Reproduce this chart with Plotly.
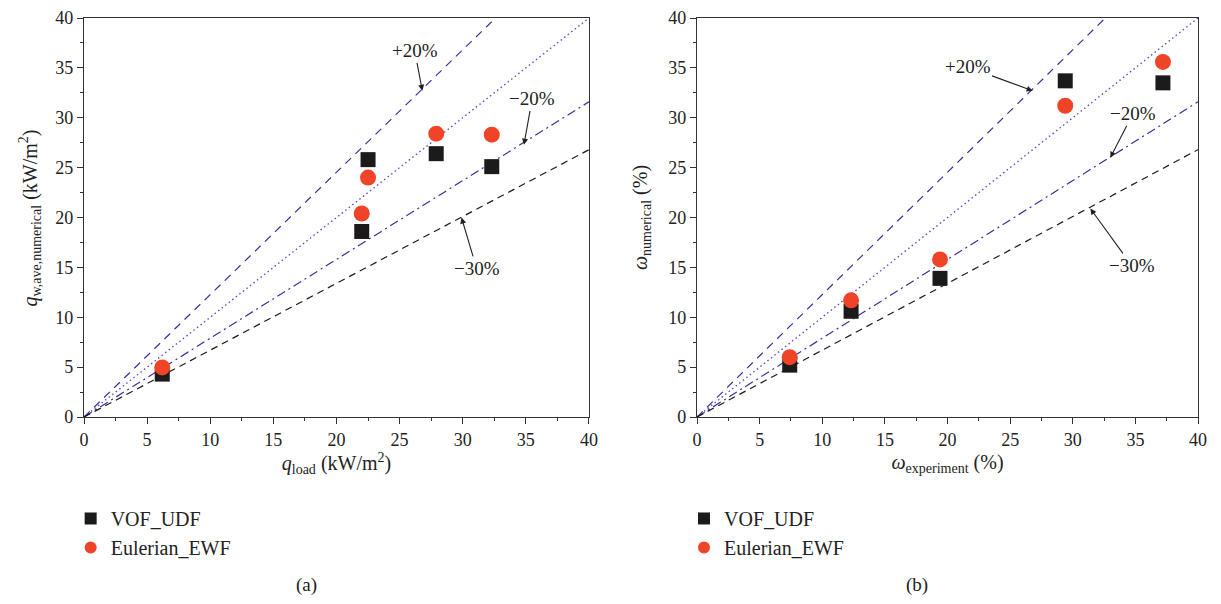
import plotly.graph_objects as go

# ---- data ----
qload_vof = [6.2, 22.5, 22.0, 27.9, 32.3]
qnum_vof = [4.3, 25.8, 18.6, 26.4, 25.1]
qload_eul = [6.2, 22.5, 22.0, 27.9, 32.3]
qnum_eul = [4.97, 24.0, 20.4, 28.4, 28.3]

wexp_vof = [7.4, 12.3, 19.4, 29.4, 37.2]
wnum_vof = [5.2, 10.6, 13.9, 33.7, 33.5]
wexp_eul = [7.4, 12.3, 19.4, 29.4, 37.2]
wnum_eul = [6.0, 11.7, 15.8, 31.2, 35.6]

ref_x = [0, 40]
slopes = {"+20%": 1.227, "0%": 1.0, "-20%": 0.79, "-30%": 0.67}

FONT = "Liberation Serif"
BLUE = "#3a2f9e"
DOTBLUE = "#5a4fd0"
RED = "#f04428"
BLACK = "#1c1a1b"

fig = go.Figure()

line_styles = {
    "+20%": dict(color=BLUE, width=1.2, dash="8px,6px"),
    "0%": dict(color=DOTBLUE, width=1.4, dash="1.5px,3px"),
    "-20%": dict(color=BLUE, width=1.2, dash="9px,4px,2px,4px"),
    "-30%": dict(color=BLACK, width=1.2, dash="7px,5px"),
}

for xa, ya in [("x", "y"), ("x2", "y2")]:
    for k, s in slopes.items():
        fig.add_trace(go.Scatter(x=ref_x, y=[s * v for v in ref_x], mode="lines",
                                 line=line_styles[k], xaxis=xa, yaxis=ya,
                                 showlegend=False, hoverinfo="skip"))

sq = dict(symbol="square", size=15, color=BLACK)
ci = dict(symbol="circle", size=16, color=RED)

fig.add_trace(go.Scatter(x=qload_vof, y=qnum_vof, mode="markers", marker=sq,
                         name="VOF_UDF", xaxis="x", yaxis="y", legend="legend"))
fig.add_trace(go.Scatter(x=qload_eul, y=qnum_eul, mode="markers", marker=ci,
                         name="Eulerian_EWF", xaxis="x", yaxis="y", legend="legend"))
fig.add_trace(go.Scatter(x=wexp_vof, y=wnum_vof, mode="markers", marker=sq,
                         name="VOF_UDF", xaxis="x2", yaxis="y2", legend="legend2"))
fig.add_trace(go.Scatter(x=wexp_eul, y=wnum_eul, mode="markers", marker=ci,
                         name="Eulerian_EWF", xaxis="x2", yaxis="y2", legend="legend2"))

axis_common = dict(range=[0, 40], dtick=5, ticks="outside", ticklen=6, tickwidth=1.2,
                   tickcolor="#333", showline=True, linecolor="#333", linewidth=1.2,
                   mirror=True, showgrid=False, zeroline=False, ticklabeloverflow="allow",
                   tickfont=dict(family=FONT, size=18, color="#222"),
                   minor=dict(dtick=2.5, ticks="outside", ticklen=3, tickwidth=1.2, tickcolor="#333"))

title_font = dict(family=FONT, size=20, color="#222")

leg_common = dict(font=dict(family=FONT, size=20, color="#222"), bgcolor="rgba(0,0,0,0)",
                  xref="container", yref="container", xanchor="left", yanchor="top",
                  itemsizing="constant", tracegroupgap=2)

fig.update_layout(
    width=1205, height=588,
    margin=dict(l=76, r=15, t=10, b=179, autoexpand=False),
    plot_bgcolor="white", paper_bgcolor="white",
    xaxis=dict(domain=[0, 0.4533], anchor="y", **axis_common,
               title=dict(text="<i>q</i><sub>load</sub> (kW/m<sup>2</sup>)", font=title_font, standoff=6)),
    yaxis=dict(domain=[0, 1], anchor="x", **axis_common),
    xaxis2=dict(domain=[0.5503, 1], anchor="y2", **axis_common,
                title=dict(text="<i>ω</i><sub>experiment</sub> (%)", font=title_font, standoff=6)),
    yaxis2=dict(domain=[0, 1], anchor="x2", **axis_common,
                title=dict(text="<i>ω</i><sub>numerical</sub> (%)", font=title_font)),
    legend=dict(x=0.052, y=0.165, **leg_common),
    legend2=dict(x=0.561, y=0.165, **leg_common),
    showlegend=True,
)

# left y-axis title (placed as rotated text beside the axis)
fig.add_annotation(text="<i>q</i><sub>w,ave,numerical</sub> (kW/m<sup>2</sup>)",
                   x=-0.0485, y=0.5, xref="paper", yref="paper", textangle=-90,
                   xanchor="center", yanchor="middle", showarrow=False, font=title_font)

ann_font = dict(family=FONT, size=19, color="#222")

def arrow(text, x, y, ax, ay, xr, yr):
    fig.add_annotation(text=text, x=x, y=y, ax=ax, ay=ay, xref=xr, yref=yr,
                       axref=xr, ayref=yr, showarrow=True, arrowhead=2, arrowsize=1.1,
                       arrowwidth=1.1, arrowcolor="#222", standoff=0, font=ann_font)

arrow("+20%", 26.8, 32.7, 26.2, 36.7, "x", "y")
arrow("−20%", 34.85, 27.3, 35.5, 31.9, "x", "y")
arrow("−30%", 29.9, 20.0, 31.1, 14.9, "x", "y")
arrow("+20%", 26.8, 32.7, 21.6, 35.1, "x2", "y2")
arrow("−20%", 33.0, 26.0, 34.8, 30.4, "x2", "y2")
arrow("−30%", 31.4, 20.9, 34.7, 15.2, "x2", "y2")

fig.add_annotation(text="(a)", x=0.2, y=-0.421, xref="paper", yref="paper",
                   xanchor="center", yanchor="middle",
                   showarrow=False, font=dict(family=FONT, size=19, color="#222"))
fig.add_annotation(text="(b)", x=0.748, y=-0.421, xref="paper", yref="paper",
                   xanchor="center", yanchor="middle",
                   showarrow=False, font=dict(family=FONT, size=19, color="#222"))

fig.write_html("out.html")
